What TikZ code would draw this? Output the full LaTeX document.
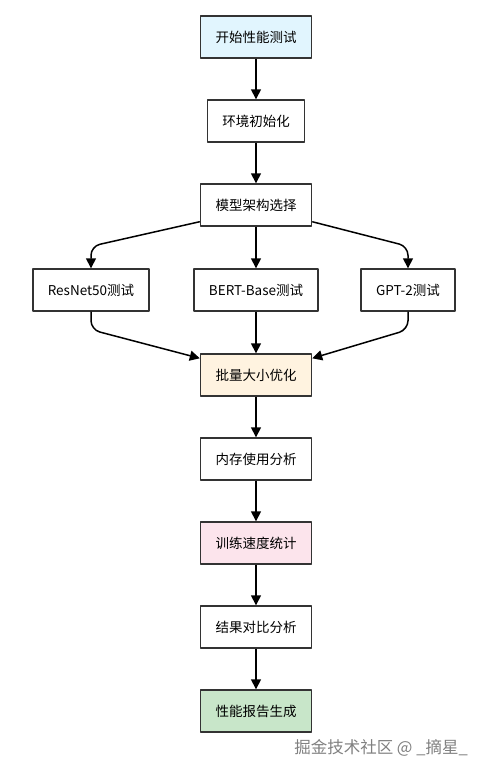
\documentclass[tikz,border=0pt]{standalone}
\usepackage{fontspec}
\setmainfont{Noto Sans CJK SC}
\usetikzlibrary{arrows.meta}
\definecolor{borde}{HTML}{333333}
\definecolor{azul}{HTML}{E1F5FE}
\definecolor{naranja}{HTML}{FFF3E0}
\definecolor{rosa}{HTML}{FCE4EC}
\definecolor{verde}{HTML}{C8E6C9}
\begin{document}
\begin{tikzpicture}[x=1pt, y=-1pt, line join=round,
    caja/.style={draw=borde, line width=1.4pt, fill=white, minimum height=42pt,
      inner xsep=15pt, inner ysep=0pt, font=\fontsize{13.5}{15}\selectfont},
    flecha/.style={line width=1.5pt, rounded corners=9pt,
      -{Triangle[length=10pt, width=10pt]}}]
  \useasboundingbox (0,0) rectangle (492,774);
  % las cajas
  \node[caja, fill=azul] (inicio) at (256,37) {开始性能测试};
  \node[caja] (entorno) at (256,121) {环境初始化};
  \node[caja] (modelo) at (256,205) {模型架构选择};
  \node[caja] (resnet) at (91,290) {ResNet50测试};
  \node[caja] (bert) at (256,290) {BERT-Base测试};
  \node[caja] (gpt) at (408,290) {GPT-2测试};
  \node[caja, fill=naranja] (lote) at (256,375) {批量大小优化};
  \node[caja] (memoria) at (256,459) {内存使用分析};
  \node[caja, fill=rosa] (velocidad) at (256,543) {训练速度统计};
  \node[caja] (resultado) at (256,627) {结果对比分析};
  \node[caja, fill=verde] (informe) at (256,711) {性能报告生成};
  % las flechas
  \draw[flecha] (inicio) -- (entorno);
  \draw[flecha] (entorno) -- (modelo);
  \draw[flecha] ([yshift=5pt]modelo.south west) -- ([yshift=22pt]resnet.north) -- (resnet.north);
  \draw[flecha] (modelo) -- (bert);
  \draw[flecha] ([yshift=5pt]modelo.south east) -- ([yshift=22pt]gpt.north) -- (gpt.north);
  \draw[flecha] (resnet.south) -- ([yshift=-18pt]resnet.south) -- ([yshift=-5pt]lote.north west);
  \draw[flecha] (bert) -- (lote);
  \draw[flecha] (gpt.south) -- ([yshift=-18pt]gpt.south) -- ([yshift=-5pt]lote.north east);
  \draw[flecha] (lote) -- (memoria);
  \draw[flecha] (memoria) -- (velocidad);
  \draw[flecha] (velocidad) -- (resultado);
  \draw[flecha] (resultado) -- (informe);
  % la marca de agua
  \node[text=gray, font=\fontsize{16.5}{18}\selectfont, inner sep=0pt] (marca) at (381,748) {掘金技术社区 @ \_摘星\_};
\end{tikzpicture}
\end{document}
